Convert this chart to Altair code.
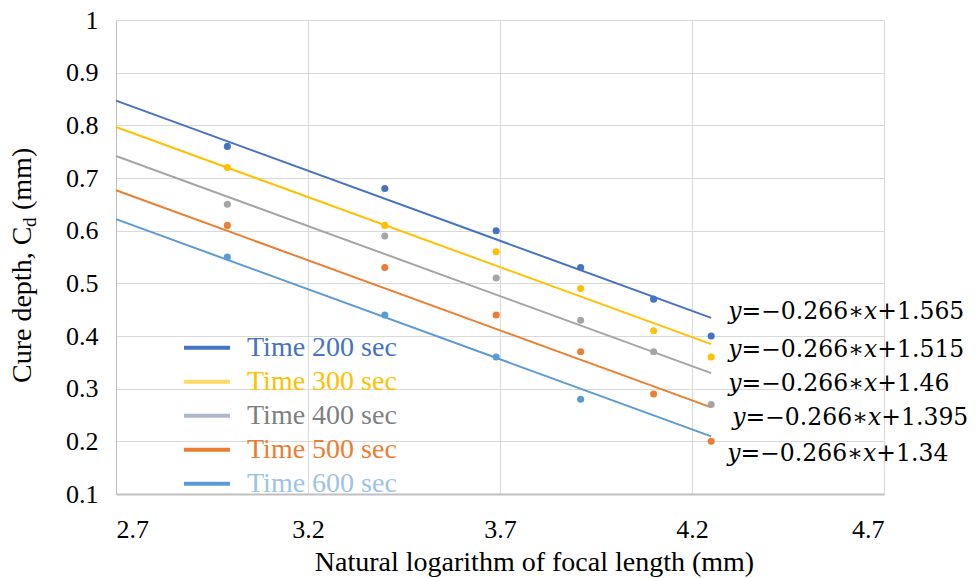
import altair as alt
import pandas as pd

# ---- data ----
x_vals = [2.99, 3.40, 3.69, 3.91, 4.10, 4.25]          # ln(focal length)
series = ["Time 200 sec", "Time 300 sec", "Time 400 sec", "Time 500 sec", "Time 600 sec"]
cd_200 = [0.76, 0.68, 0.60, 0.53, 0.47, 0.40]
cd_300 = [0.72, 0.61, 0.56, 0.49, 0.41, 0.36]
cd_400 = [0.65, 0.59, 0.51, 0.43, 0.37, 0.27]
cd_500 = [0.61, 0.53, 0.44, 0.37, 0.29, 0.20]
cd_600 = [0.55, 0.44, 0.36, 0.28, None, None]
slope = -0.266
intercepts = [1.565, 1.515, 1.46, 1.395, 1.34]
fit_range = [2.7, 4.25]
eq_labels = ["𝑦=−0.266∗𝑥+1.565", "𝑦=−0.266∗𝑥+1.515", "𝑦=−0.266∗𝑥+1.46",
             "𝑦=−0.266∗𝑥+1.395", "𝑦=−0.266∗𝑥+1.34"]
x_ticks = [2.7, 3.2, 3.7, 4.2, 4.7]
y_ticks = [0.1, 0.2, 0.3, 0.4, 0.5, 0.6, 0.7, 0.8, 0.9, 1.0]
y_title_parts = ["Cure depth, C", "d", "(mm)"]

colors = ["#4472C4", "#FFC000", "#A5A5A5", "#ED7D31", "#5B9BD5"]
swatch_colors = ["#4472C4", "#FFD966", "#ADB9CA", "#ED7D31", "#5B9BD5"]
label_colors = ["#4472C4", "#FFC000", "#808080", "#ED7D31", "#9DC3E6"]
eq_dy = [-6, 6, 11, 11, 18]
eq_dx = [17, 17, 17, 21, 16]

# ---- tables ----
all_cd = [cd_200, cd_300, cd_400, cd_500, cd_600]
pts = pd.DataFrame([
    {"series": s, "x": x, "cd": v}
    for s, vals in zip(series, all_cd)
    for x, v in zip(x_vals, vals) if v is not None
])
fit = pd.DataFrame([
    {"series": s, "x": x, "cd": slope * x + b}
    for s, b in zip(series, intercepts)
    for x in fit_range
])
ends = pd.DataFrame([
    {"series": s, "x": fit_range[1], "cd": slope * fit_range[1] + b, "eq": e}
    for s, b, e in zip(series, intercepts, eq_labels)
])

serif = "Liberation Serif"
label_expr = " : ".join(
    f"datum.label === '{s}' ? '{c}'" for s, c in zip(series, label_colors)
) + " : 'black'"

xscale = alt.Scale(domain=[2.7, 4.7], nice=False, zero=False)
yscale = alt.Scale(domain=[0.1, 1.0], nice=False, zero=False)

X = alt.X("x:Q", scale=xscale,
          axis=alt.Axis(values=x_ticks, format=".1f",
                        title="Natural logarithm of focal length (mm)",
                        titleBaseline="alphabetic", titleY=76, titleX=418,
                        labelPadding=22))
Y = alt.Y("cd:Q", scale=yscale,
          axis=alt.Axis(values=y_ticks, format="~g", title=None,
                        labelPadding=18))

# invisible carrier of the legend (Excel shows lighter swatches than the lines)
legend_carrier = alt.Chart(fit).mark_line(opacity=0).encode(
    x=X, y=Y,
    color=alt.Color("series:N",
                    scale=alt.Scale(domain=series, range=swatch_colors),
                    legend=alt.Legend(
                        title=None, orient="none", legendX=66, legendY=312,
                        direction="vertical", symbolType="stroke",
                        symbolSize=2116, symbolStrokeWidth=4, symbolOpacity=1,
                        labelFont=serif, labelFontSize=28, labelOffset=15,
                        labelColor={"expr": label_expr},
                        clipHeight=31.5, rowPadding=2, padding=0)),
)

line_layers = []
point_layers = []
for s, c in zip(series, colors):
    line_layers.append(
        alt.Chart(fit).transform_filter(alt.datum.series == s)
        .mark_line(strokeWidth=2, color=c)
        .encode(x="x:Q", y="cd:Q")
    )
    point_layers.append(
        alt.Chart(pts).transform_filter(alt.datum.series == s)
        .mark_circle(size=50, opacity=1, color=c)
        .encode(x="x:Q", y="cd:Q")
    )

eq_layers = []
for s, dx, dy in zip(series, eq_dx, eq_dy):
    eq_layers.append(
        alt.Chart(ends).transform_filter(alt.datum.series == s)
        .mark_text(align="left", baseline="middle", dx=dx, dy=dy,
                   font="DejaVu Serif", fontSize=23.5, color="black")
        .encode(x="x:Q", y="cd:Q", text="eq:N")
    )

# y-axis title with subscript, drawn as rotated text pieces
one = pd.DataFrame({"t": y_title_parts})
title_main = alt.Chart(one).transform_filter(alt.datum.t == y_title_parts[0]).mark_text(
    angle=270, align="left", baseline="alphabetic", font=serif, fontSize=28, color="black"
).encode(x=alt.value(-85), y=alt.value(363), text="t:N")
title_sub = alt.Chart(one).transform_filter(alt.datum.t == y_title_parts[1]).mark_text(
    angle=270, align="left", baseline="alphabetic", font=serif, fontSize=19, color="black"
).encode(x=alt.value(-80), y=alt.value(207), text="t:N")
title_end = alt.Chart(one).transform_filter(alt.datum.t == y_title_parts[2]).mark_text(
    angle=270, align="left", baseline="alphabetic", font=serif, fontSize=28, color="black"
).encode(x=alt.value(-85), y=alt.value(190), text="t:N")

chart = alt.layer(legend_carrier, *line_layers, *point_layers, *eq_layers,
                  title_main, title_sub, title_end).properties(
    width=768, height=474,
    padding={"left": 108, "top": 12, "right": 84, "bottom": 84},
    autosize=alt.AutoSizeParams(type="none"),
).configure_view(stroke=None).configure_axis(
    labelFont=serif, labelFontSize=26, labelColor="black",
    titleFont=serif, titleFontSize=28, titleFontWeight="normal", titleColor="black",
    ticks=False, gridColor="#D9D9D9", gridWidth=1,
    domainColor="#BFBFBF",
).configure_axisX(domainWidth=2)

chart.save("out.html", embed_options={"renderer": "svg", "actions": False})
